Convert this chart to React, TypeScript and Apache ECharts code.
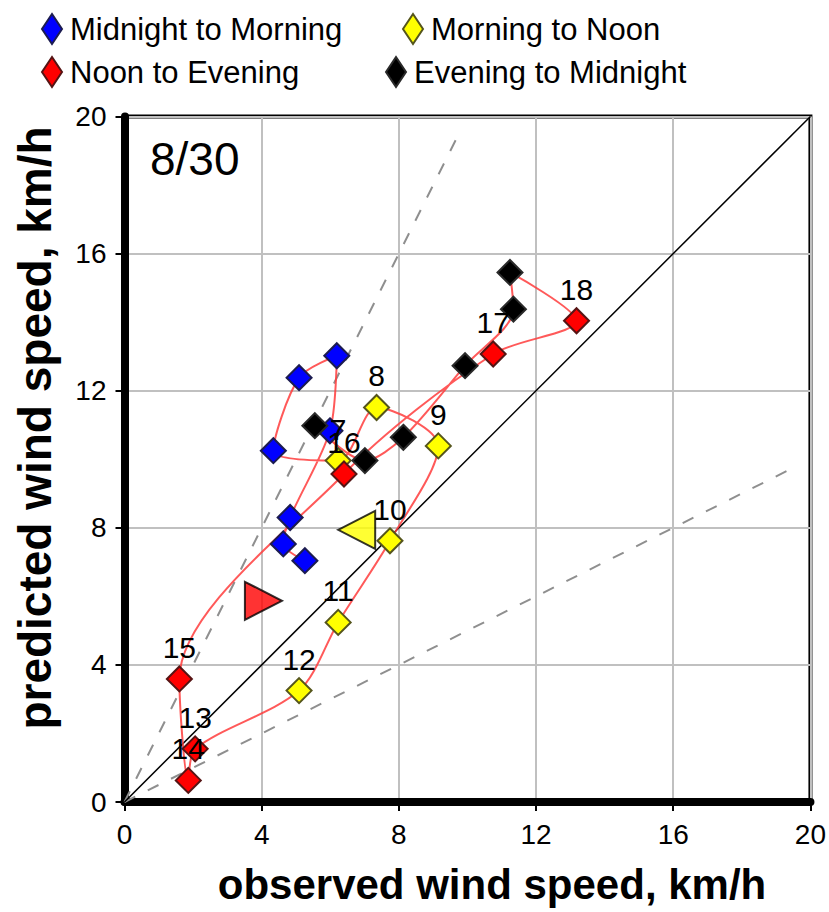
import React, { useEffect, useRef } from 'react';
import * as echarts from 'echarts';

const FONT = '"Liberation Sans", Arial, Helvetica, sans-serif';

// Hour of day for each point of the trace (0 = midnight, 24 = next midnight)
const hours = [0, 1, 2, 3, 4, 5, 6, 7, 8, 9, 10, 11, 12, 13, 14, 15, 16, 17, 18, 19, 20, 21, 22, 23, 24];

// Observed wind speed (km/h) for each hour
const observed = [
  5.26, 4.63, 4.83, 5.99, 6.19, 5.09, 4.34,
  6.23, 7.35, 9.15, 7.74, 6.23, 5.09,
  2.06, 1.86, 1.6, 6.4, 10.75, 13.18,
  11.24, 11.34, 9.93, 8.13, 7.01, 5.55,
];

// Predicted wind speed (km/h) for each hour
const predicted = [
  7.04, 7.53, 8.3, 10.83, 13.02, 12.38, 10.25,
  9.96, 11.51, 10.39, 7.62, 5.24, 3.25,
  1.55, 0.63, 3.59, 9.57, 13.07, 14.04,
  15.45, 14.38, 12.73, 10.64, 9.96, 10.98,
];

// Periods of the day (first and last hour of each)
const periodNames = ['Midnight to Morning', 'Morning to Noon', 'Noon to Evening', 'Evening to Midnight'];
const periodFirstHour = [0, 7, 13, 19];
const periodLastHour = [6, 12, 18, 24];
const periodColors = ['#0000ff', '#ffff00', '#ff0000', '#000000'];
const periodBorders = ['#1c1c50', '#55551c', '#561414', '#2a2a2a'];

// Hours that carry a text label
const labelledHours = [7, 8, 9, 10, 11, 12, 13, 14, 15, 16, 17, 18];

// Big direction triangles
const arrowX = [4.05, 6.77];
const arrowY = [5.87, 7.94];
const arrowColors = ['#ff0000', '#ffff00'];
const arrowRotations = [-90, 90];

// Reference lines: factor-of-two envelopes and the 1:1 line
const doubleLine = [[0, 0], [9.75, 19.5]];
const halfLine = [[0, 0], [19.6, 9.8]];
const identityLine = [[0, 0], [20, 20]];

// Axis ticks
const axisMin = 0;
const axisMax = 20;
const axisStep = 4;

const dayLabel = '8/30';

export default function App() {
  const ref = useRef<HTMLDivElement>(null);

  useEffect(() => {
    const chart = echarts.init(ref.current as HTMLDivElement, null, { renderer: 'svg' });

    const trace = hours.map((h, i) => [observed[i], predicted[i], h]);

    const periodSeries = periodNames.map((name, p) => ({
      name,
      type: 'scatter',
      symbol: 'diamond',
      symbolSize: 25,
      z: 5,
      itemStyle: { color: periodColors[p], borderColor: periodBorders[p], borderWidth: 2, opacity: 1 },
      label: {
        show: true,
        position: 'top',
        distance: 3,
        color: '#000',
        fontFamily: FONT,
        fontSize: 30,
        formatter: (d: any) => (labelledHours.includes(d.value[2]) ? String(d.value[2]) : ''),
      },
      data: trace.filter((pt) => pt[2] >= periodFirstHour[p] && pt[2] <= periodLastHour[p]),
    }));

    const legendLayout = [
      { left: 36, top: 8 },
      { left: 397, top: 8 },
      { left: 36, top: 51 },
      { left: 380, top: 51 },
    ];

    const option: any = {
      animation: false,
      backgroundColor: '#ffffff',
      textStyle: { fontFamily: FONT },
      legend: periodNames.map((name, p) => ({
        data: [name],
        left: legendLayout[p].left,
        top: legendLayout[p].top,
        icon: 'diamond',
        itemWidth: 20,
        itemHeight: 30,
        itemGap: 0,
        selectedMode: false,
        textStyle: { fontFamily: FONT, fontSize: 31, color: '#000', padding: [0, 0, 0, 3] },
      })),
      grid: {
        left: 124.5,
        top: 116.5,
        right: 18,
        bottom: 110,
        show: true,
        borderColor: '#000',
        borderWidth: 4,
        containLabel: false,
      },
      xAxis: {
        type: 'value',
        min: axisMin,
        max: axisMax,
        interval: axisStep,
        axisLine: { show: true, onZero: false, lineStyle: { color: '#000', width: 8 } },
        axisTick: { show: true, length: 9, inside: false, lineStyle: { color: '#000', width: 2 } },
        axisLabel: { color: '#000', fontFamily: FONT, fontSize: 28, margin: 18 },
        splitLine: { show: true, lineStyle: { color: '#c0c0c0', width: 2 } },
      },
      yAxis: {
        type: 'value',
        min: axisMin,
        max: axisMax,
        interval: axisStep,
        axisLine: { show: true, onZero: false, lineStyle: { color: '#000', width: 8 } },
        axisTick: { show: true, length: 9, inside: false, lineStyle: { color: '#000', width: 2 } },
        axisLabel: { color: '#000', fontFamily: FONT, fontSize: 28, margin: 18 },
        splitLine: { show: true, lineStyle: { color: '#c0c0c0', width: 2 } },
      },
      graphic: [
        {
          type: 'text',
          left: 150,
          top: 136,
          style: { text: dayLabel, fontFamily: FONT, fontSize: 46, fill: '#000' },
          z: 10,
        },
        {
          type: 'text',
          x: 492,
          y: 884,
          style: {
            text: 'observed wind speed, km/h',
            fontFamily: FONT,
            fontWeight: 'bold',
            fontSize: 42,
            fill: '#000',
            align: 'center',
            verticalAlign: 'middle',
          },
        },
        {
          type: 'text',
          x: 35,
          y: 428,
          rotation: Math.PI / 2,
          style: {
            text: 'predicted wind speed, km/h',
            fontFamily: FONT,
            fontWeight: 'bold',
            fontSize: 46,
            fill: '#000',
            align: 'center',
            verticalAlign: 'middle',
          },
        },
      ],
      series: [
        {
          type: 'line',
          data: doubleLine,
          showSymbol: false,
          silent: true,
          z: 1,
          lineStyle: { color: '#8f8f8f', width: 2, type: [12, 14] },
        },
        {
          type: 'line',
          data: halfLine,
          showSymbol: false,
          silent: true,
          z: 1,
          lineStyle: { color: '#8f8f8f', width: 2, type: [12, 14] },
        },
        {
          type: 'line',
          data: identityLine,
          showSymbol: false,
          silent: true,
          z: 1,
          lineStyle: { color: '#000', width: 1.5 },
        },
        {
          type: 'line',
          data: trace,
          showSymbol: false,
          smooth: 0.3,
          silent: true,
          z: 2,
          lineStyle: { color: '#ff3c3c', width: 2, opacity: 0.85 },
        },
        ...periodSeries,
        {
          type: 'scatter',
          symbol: 'triangle',
          symbolSize: [38, 37],
          z: 4,
          silent: true,
          data: arrowX.map((x, i) => ({
            value: [x, arrowY[i]],
            symbolRotate: arrowRotations[i],
            itemStyle: { color: arrowColors[i], borderColor: '#000', borderWidth: 2 },
          })),
        },
      ],
    };

    chart.setOption(option);
    return () => chart.dispose();
  }, []);

  return (
    <div
      ref={ref}
      style={{ position: 'absolute', left: 0, top: 0, width: 829, height: 912, background: '#fff' }}
    />
  );
}
